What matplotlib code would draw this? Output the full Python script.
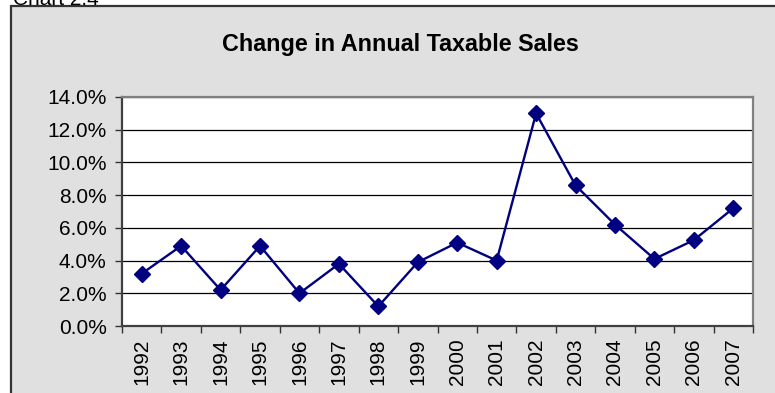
import matplotlib
matplotlib.use("Agg")
import matplotlib.pyplot as plt
from matplotlib.patches import Rectangle
from matplotlib.ticker import FuncFormatter, FixedLocator
import numpy as np

years = ["1992", "1993", "1994", "1995", "1996", "1997", "1998", "1999",
         "2000", "2001", "2002", "2003", "2004", "2005", "2006", "2007"]
change_pct = [3.2, 4.9, 2.2, 4.9, 2.0, 3.8, 1.2, 3.9,
              5.1, 4.0, 13.0, 8.6, 6.2, 4.1, 5.25, 7.2]
y_ticks = [0, 2, 4, 6, 8, 10, 12, 14]
title = "Change in Annual Taxable Sales"
caption = "Chart 2.4"

plt.rcParams['font.family'] = ['Liberation Sans', 'DejaVu Sans']

W, H = 775, 393
fig = plt.figure(figsize=(W / 100, H / 100), dpi=100)
fig.patch.set_facecolor('white')

# gray chart area with dark border
fig.patches.append(Rectangle((11 / W, -0.05), 1.2, 1 - 6 / H + 0.05,
                             transform=fig.transFigure, facecolor='#E0E0E0',
                             edgecolor='#333333', linewidth=1.6, zorder=-10))

fig.text(13 / W, 1 - 5 / H, caption, fontsize=15, va='baseline', ha='left',
         color='black')

fig.text(400.5 / W, 1 - 45 / H, title, fontsize=16.8, fontweight='bold',
         ha='center', va='center')

ax = fig.add_axes([122 / W, 1 - 326 / H, (753 - 122) / W, (326 - 97) / H])
ax.set_zorder(5)
ax.set_facecolor('white')

x = np.arange(len(years))
ax.plot(x, change_pct, color='#000080', linewidth=1.7, marker='D',
        markersize=8, markerfacecolor='#000080', markeredgecolor='#000080',
        zorder=3, clip_on=False)

ax.set_xlim(-0.5, len(years) - 0.5)
ax.set_ylim(0, 14)
ax.set_yticks(y_ticks)
ax.yaxis.set_major_formatter(FuncFormatter(lambda v, p: f"{v:.1f}%"))
ax.yaxis.grid(True, color='black', linewidth=0.9)
ax.set_axisbelow(True)

ax.set_xticks(x)
ax.set_xticklabels(years, rotation=90, fontsize=15)
ax.xaxis.set_minor_locator(FixedLocator(np.arange(-0.5, len(years), 1.0)))
ax.tick_params(axis='x', which='major', length=0, pad=9)
ax.tick_params(axis='x', which='minor', length=5, width=1, color='#333333',
               direction='out')
ax.tick_params(axis='y', which='major', length=5, width=1, color='#333333',
               direction='out', labelsize=15, pad=6)

for side in ['top', 'right']:
    ax.spines[side].set_color('#808080')
    ax.spines[side].set_linewidth(1.6)
for side in ['left', 'bottom']:
    ax.spines[side].set_color('#404040')
    ax.spines[side].set_linewidth(1.6)

fig.savefig('out.png', dpi=100, facecolor=fig.get_facecolor())
